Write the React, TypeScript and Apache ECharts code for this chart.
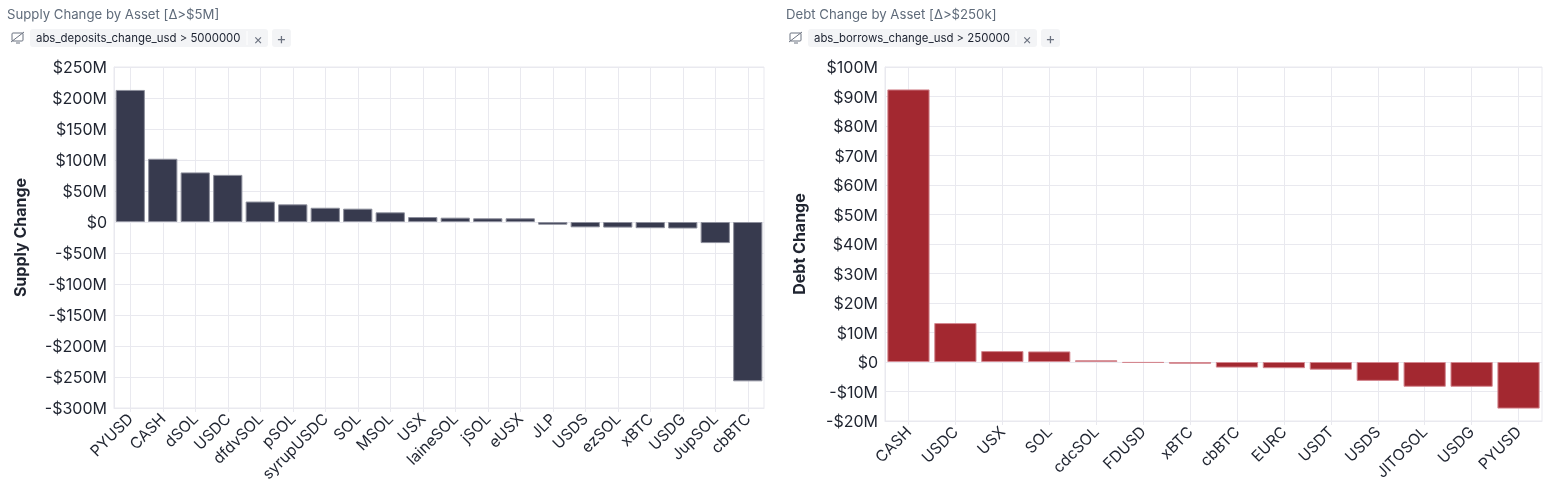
import React, { useEffect, useRef } from "react";
import * as echarts from "echarts";

const supplyAssets = ["PYUSD", "CASH", "dSOL", "USDC", "dfdvSOL", "pSOL", "syrupUSDC", "SOL", "MSOL", "USX", "laineSOL", "jSOL", "eUSX", "JLP", "USDS", "ezSOL", "xBTC", "USDG", "JupSOL", "cbBTC"];
const supplyChangeM = [213, 102, 80, 76, 33, 28.5, 23, 21.5, 15.6, 8, 7, 6, 6, -4.4, -8.6, -9, -10, -10.5, -34, -257];

const debtAssets = ["CASH", "USDC", "USX", "SOL", "cdcSOL", "FDUSD", "xBTC", "cbBTC", "EURC", "USDT", "USDS", "JITOSOL", "USDG", "PYUSD"];
const debtChangeM = [92.4, 13.2, 3.7, 3.6, 0.6, -0.3, -0.6, -1.9, -2.1, -2.6, -6.4, -8.4, -8.4, -15.8];

const titles = ["Supply Change by Asset [Δ>$5M]", "Debt Change by Asset [Δ>$250k]"];
const filterTexts = ["abs_deposits_change_usd > 5000000", "abs_borrows_change_usd > 250000"];
const axisNames = ["Supply Change", "Debt Change"];

const FONT = "Inter, 'Noto Sans', sans-serif";

const fmt = (v: number) => (v === 0 ? "$0" : (v < 0 ? "-" : "") + "$" + Math.abs(v) + "M");

function chip(x: number, w: number, text: string, textW: number) {
  const y = 29;
  const h = 18;
  return [
    { type: "rect", shape: { x: x - 18, y: y + 4, width: 11, height: 8, r: 1 }, style: { fill: "none", stroke: "#6b7280", lineWidth: 1 } },
    { type: "line", shape: { x1: x - 14, y1: y + 14, x2: x - 10, y2: y + 14 }, style: { stroke: "#6b7280", lineWidth: 1 } },
    { type: "line", shape: { x1: x - 19, y1: y + 13, x2: x - 6, y2: y + 3 }, style: { stroke: "#6b7280", lineWidth: 1 } },
    { type: "rect", shape: { x, y, width: w, height: h, r: 3 }, style: { fill: "#f3f4f6" } },
    { type: "text", x: x + 6, y: y + h / 2, style: { text, font: `11.4px ${FONT}`, fill: "#1c2230", verticalAlign: "middle" } },
    { type: "line", shape: { x1: x + textW + 10, y1: y + 2, x2: x + textW + 10, y2: y + h - 2 }, style: { stroke: "#ffffff", lineWidth: 1 } },
    { type: "text", x: x + w - 10, y: y + h / 2, style: { text: "×", font: `14px ${FONT}`, fill: "#6b7280", align: "center", verticalAlign: "middle" } },
    { type: "rect", shape: { x: x + w + 4, y, width: 19, height: h, r: 3 }, style: { fill: "#f3f4f6" } },
    { type: "text", x: x + w + 13.5, y: y + h / 2, style: { text: "+", font: `15px ${FONT}`, fill: "#6b7280", align: "center", verticalAlign: "middle" } },
  ];
}

export default function App() {
  const ref = useRef<HTMLDivElement>(null);
  useEffect(() => {
    if (!ref.current) return;
    const chart = echarts.init(ref.current, null, { renderer: "svg" });
    const gridLine = "#e9e9ef";
    const labelColor = "#1f2430";
    const xAxisBase = (idx: number, data: string[]) => ({
      type: "category",
      gridIndex: idx,
      data,
      axisLine: { onZero: false, show: true, lineStyle: { color: gridLine } },
      axisTick: { show: true, alignWithLabel: true, length: 4, lineStyle: { color: gridLine } },
      splitLine: { show: true, alignWithLabel: true, lineStyle: { color: gridLine } },
      axisLabel: { rotate: 45, interval: 0, fontSize: 15.5, color: labelColor, fontFamily: FONT, margin: 8 },
    });
    const yAxisBase = (idx: number, min: number, max: number, interval: number, name: string, gap: number) => ({
      type: "value",
      gridIndex: idx,
      min,
      max,
      interval,
      name,
      nameLocation: "middle",
      nameGap: gap,
      nameTextStyle: { fontSize: 16, fontWeight: "bold", color: labelColor, fontFamily: FONT },
      axisLine: { show: true, lineStyle: { color: gridLine } },
      axisTick: { show: false },
      splitLine: { show: true, lineStyle: { color: gridLine } },
      axisLabel: { formatter: fmt, fontSize: 16, color: labelColor, fontFamily: FONT, margin: 7 },
    });
    chart.setOption({
      animation: false,
      textStyle: { fontFamily: FONT },
      title: [
        { text: titles[0], left: 2, top: 2, textStyle: { fontSize: 13.2, fontWeight: "normal", color: "#5f6b7a", fontFamily: FONT } },
        { text: titles[1], left: 781, top: 2, textStyle: { fontSize: 13.2, fontWeight: "normal", color: "#5f6b7a", fontFamily: FONT } },
      ],
      grid: [
        { left: 114, top: 67, width: 650, height: 341, show: true, borderColor: gridLine, borderWidth: 1, containLabel: false },
        { left: 885, top: 67, width: 657, height: 354, show: true, borderColor: gridLine, borderWidth: 1, containLabel: false },
      ],
      xAxis: [xAxisBase(0, supplyAssets), xAxisBase(1, debtAssets)],
      yAxis: [
        yAxisBase(0, -300, 250, 50, axisNames[0], 86),
        yAxisBase(1, -20, 100, 10, axisNames[1], 78),
      ],
      series: [
        {
          type: "bar",
          xAxisIndex: 0,
          yAxisIndex: 0,
          data: supplyChangeM,
          barCategoryGap: "10%",
          itemStyle: { color: "#373a4e", borderColor: "#8e909d", borderWidth: 1 },
        },
        {
          type: "bar",
          xAxisIndex: 1,
          yAxisIndex: 1,
          data: debtChangeM,
          barCategoryGap: "10%",
          itemStyle: { color: "#a32830", borderColor: "#d48890", borderWidth: 1 },
        },
      ],
      graphic: [...chip(30, 238, filterTexts[0], 207), ...chip(808, 229, filterTexts[1], 198)],
    });
    return () => chart.dispose();
  }, []);
  return <div ref={ref} style={{ position: "fixed", left: 0, top: 0, width: 1548, height: 490 }} />;
}
